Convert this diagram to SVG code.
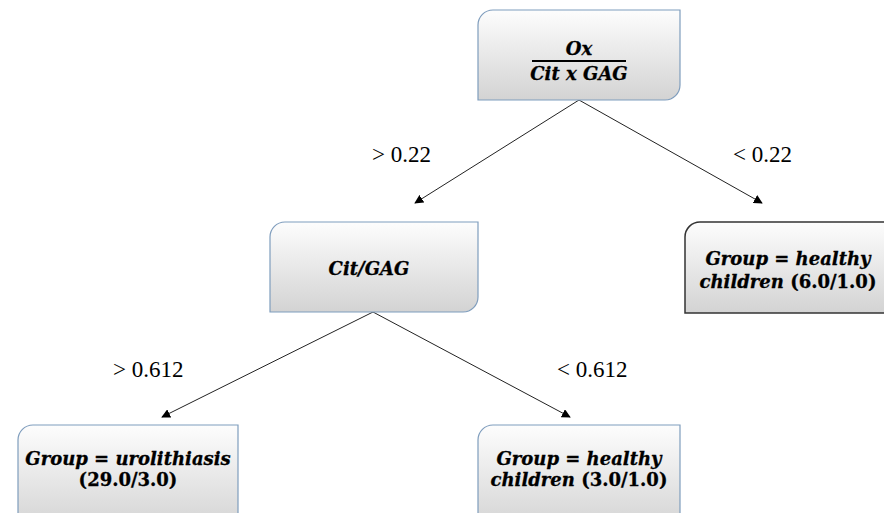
<svg xmlns="http://www.w3.org/2000/svg" width="884" height="513" viewBox="0 0 884 513">
  <defs>
    <linearGradient id="g" x1="0" y1="0" x2="0" y2="1">
      <stop offset="0" stop-color="#fdfdfd"/>
      <stop offset="1" stop-color="#d3d3d3"/>
    </linearGradient>
    <marker id="arr" viewBox="0 0 10 10" refX="9" refY="5" markerWidth="9" markerHeight="9" markerUnits="userSpaceOnUse" orient="auto">
      <path d="M0,0 L10,5 L0,10 z" fill="#000"/>
    </marker>
  </defs>
  <style>
    .box { fill: url(#g); stroke: #7f9dbd; stroke-width: 1.2; }
    .dark { stroke: #333; stroke-width: 1.5; }
    .nt { font-family: "DejaVu Serif", serif; font-weight: bold; font-style: italic; font-size: 18px; text-anchor: middle; fill: #000; stroke: #000; stroke-width: 0.3; }
    .up { font-style: normal; }
    .lbl { font-family: "Liberation Serif", serif; font-size: 23px; fill: #000; }
    .edge { stroke: #222; stroke-width: 1; fill: none; marker-end: url(#arr); }
  </style>
  <rect width="884" height="513" fill="#fff"/>
  <g id="connectors">
    <line class="edge" x1="579" y1="100" x2="415" y2="203"/>
    <line class="edge" x1="579" y1="100" x2="762" y2="203"/>
    <line class="edge" x1="373" y1="312" x2="162" y2="417"/>
    <line class="edge" x1="373" y1="312" x2="570" y2="417"/>
    <text class="lbl" x="372" y="162">&gt; 0.22</text>
    <text class="lbl" x="733" y="162">&lt; 0.22</text>
    <text class="lbl" x="113" y="377">&gt; 0.612</text>
    <text class="lbl" x="557" y="377">&lt; 0.612</text>
  </g>
  <g id="root">
    <path class="box" d="M478,25 A15,15 0 0 1 493,10 H680 V85 A15,15 0 0 1 665,100 H478 Z"/>
    <text class="nt" x="579" y="55">Ox</text>
    <line x1="532" y1="61" x2="626" y2="61" stroke="#000" stroke-width="2"/>
    <text class="nt" x="579" y="80">Cit x GAG</text>
  </g>
  <g id="citgag">
    <path class="box" d="M270,237 A15,15 0 0 1 285,222 H478 V297 A15,15 0 0 1 463,312 H270 Z"/>
    <text class="nt" x="369" y="275">Cit/GAG</text>
  </g>
  <g id="healthy1">
    <path class="box dark" d="M685,237 A15,15 0 0 1 700,222 H895 V313 H685 Z"/>
    <text class="nt" x="788" y="265">Group = healthy</text>
    <text class="nt" x="788" y="288">children <tspan class="up">(6.0/1.0)</tspan></text>
  </g>
  <g id="urolithiasis">
    <path class="box" d="M18,440 A15,15 0 0 1 33,425 H238 V530 H18 Z"/>
    <text class="nt" x="128" y="465">Group = urolithiasis</text>
    <text class="nt up" x="128" y="486">(29.0/3.0)</text>
  </g>
  <g id="healthy2">
    <path class="box" d="M478,440 A15,15 0 0 1 493,425 H680 V530 H478 Z"/>
    <text class="nt" x="579" y="465">Group = healthy</text>
    <text class="nt" x="579" y="486">children <tspan class="up">(3.0/1.0)</tspan></text>
  </g>
</svg>
